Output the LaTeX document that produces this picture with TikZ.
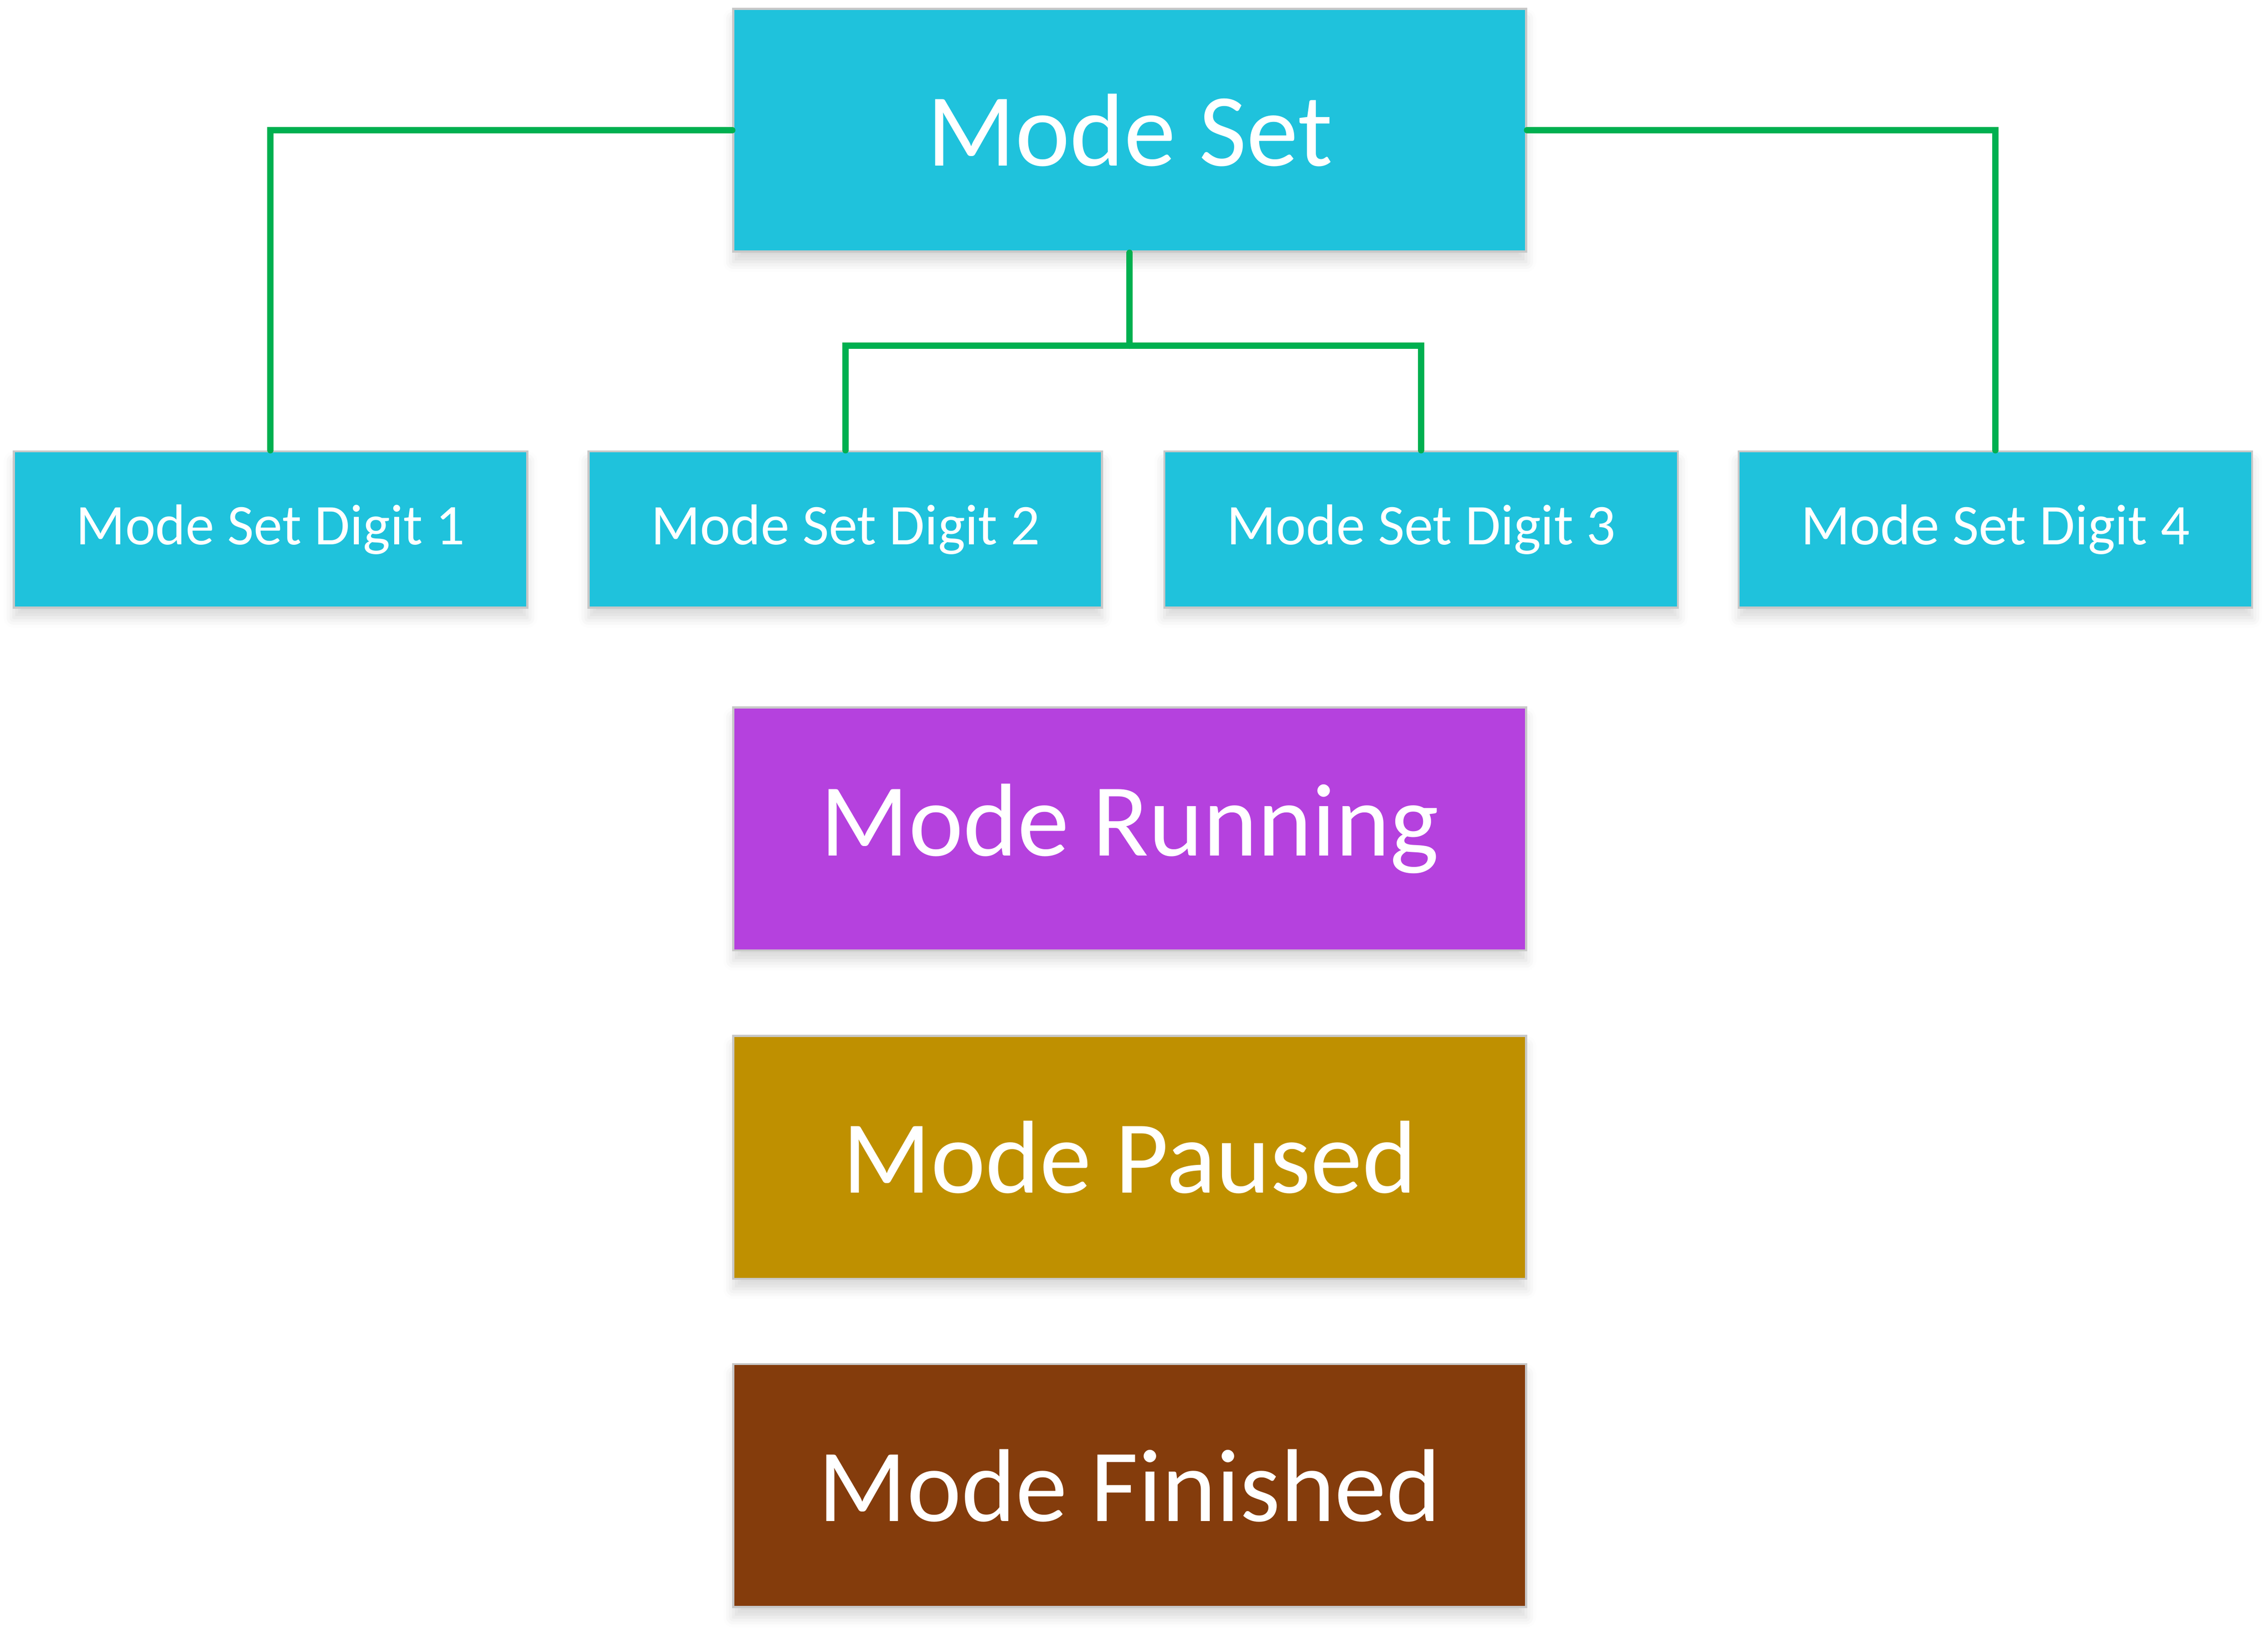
\documentclass[tikz,border=0pt]{standalone}
\usepackage{fontspec}
\setmainfont{Carlito}
\usetikzlibrary{shadows.blur}
\definecolor{boxcyan}{HTML}{1FC2DC}
\definecolor{boxpurple}{HTML}{B541DE}
\definecolor{boxgold}{HTML}{BF9000}
\definecolor{boxbrown}{HTML}{843C0C}
\definecolor{boxborder}{HTML}{C8C8C8}
\definecolor{linkgreen}{HTML}{00B050}
\tikzset{
  basebox/.style={draw=boxborder, line width=0.75pt, text=white, inner sep=0pt,
    blur shadow={shadow xshift=0pt, shadow yshift=-3.5pt, shadow blur radius=3.5pt,
      shadow opacity=15}},
  bigbox/.style={basebox, minimum width=274pt, minimum height=84pt, font=\fontsize{35.8}{40}\selectfont},
  digitbox/.style={basebox, fill=boxcyan, minimum width=177.5pt, minimum height=54pt, font=\fontsize{19.9}{23}\selectfont},
  link/.style={draw=linkgreen, line width=2.2pt, line cap=round, line join=miter}
}
\begin{document}
\begin{tikzpicture}[x=0.5pt, y=-0.5pt]
\useasboundingbox (0,0) rectangle (1568,1126);
\node[bigbox, fill=boxcyan] (ms) at (781,90) {Mode Set};
\node[digitbox] (d1) at (187,366) {Mode Set Digit 1};
\node[digitbox] (d2) at (584.5,366) {Mode Set Digit 2};
\node[digitbox] (d3) at (982.5,366) {Mode Set Digit 3};
\node[digitbox] (d4) at (1379.5,366) {Mode Set Digit 4};
\node[bigbox, fill=boxpurple] (run) at (781,573) {Mode Running};
\node[bigbox, fill=boxgold] (pause) at (781,800) {Mode Paused};
\node[bigbox, fill=boxbrown] (fin) at (781,1027) {Mode Finished};
\coordinate (jn) at (781,239);
\draw[link] (ms.west) -| (d1.north);
\draw[link] (ms.east) -| (d4.north);
\draw[link] (ms.south) -- (jn);
\draw[link] (jn) -| (d2.north);
\draw[link] (jn) -| (d3.north);
\end{tikzpicture}
\end{document}
